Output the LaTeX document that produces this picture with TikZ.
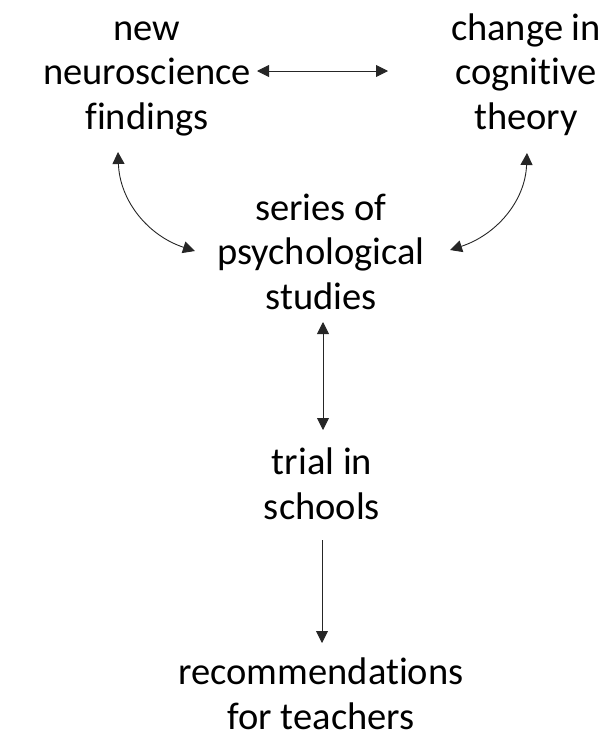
\documentclass[tikz,border=0pt]{standalone}
\usepackage{fontspec}
\setmainfont{Carlito}[Ligatures=NoCommon]
\usetikzlibrary{arrows.meta,calc}
\begin{document}
\begin{tikzpicture}[x=1pt,y=-1pt,
  lbl/.style={align=center,inner sep=0pt,outer sep=0pt,font=\fontsize{38.5}{44.5}\selectfont,text=black},
  tip/.tip={Triangle[length=12pt,width=12pt]},
  both/.style={line width=0.9pt,draw=black!85,tip-tip},
  one/.style={line width=0.9pt,draw=black!85,-tip}]
\useasboundingbox (0,0) rectangle (604,734);
\node[lbl,anchor=base] (nf) at (147,129) {new\\neuroscience\\findings};
\node[lbl,anchor=base] (ct) at (526,129) {change in\\cognitive\\theory};
\node[lbl,anchor=base] (ps) at (321,309) {series of\\psychological\\studies};
\node[lbl,anchor=base] (ts) at (322,519) {trial in\\schools};
\node[lbl,anchor=base] (rt) at (321,729) {recommendations\\for teachers};
\coordinate (l1) at (118,152);
\coordinate (l2) at (195,251);
\coordinate (r1) at (527,153);
\coordinate (r2) at (450,250);
\coordinate (h1) at (257,71);
\coordinate (h2) at (388,71);
\coordinate (v1) at (323,322);
\coordinate (v2) at (323,430);
\coordinate (w1) at (322,540);
\coordinate (w2) at (322,643);
\draw[both] (h1) -- (h2);
\draw[both] (l1) to[out=-88,in=162] (l2);
\draw[both] (r1) to[out=-92,in=18] (r2);
\draw[both] (v1) -- (v2);
\draw[one] (w1) -- (w2);
\end{tikzpicture}
\end{document}
